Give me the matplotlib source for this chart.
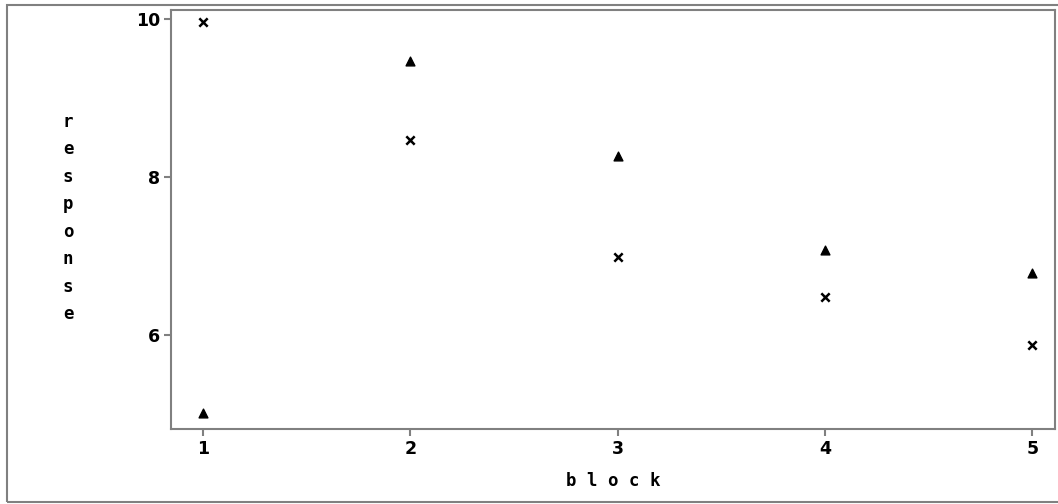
import matplotlib.pyplot as plt
from matplotlib.patches import Rectangle

blocks = [1, 2, 3, 4, 5]
resp_x = [9.96, 8.47, 6.99, 6.49, 5.88]
resp_tri = [5.02, 9.47, 8.27, 7.08, 6.79]
xticks = [1, 2, 3, 4, 5]
yticks = [6, 8, 10]

fig = plt.figure(figsize=(10.58, 5.04), dpi=100)
fig.patches.append(Rectangle((7 / 1058, 2 / 504), 1.1, 497 / 504, transform=fig.transFigure,
                             fill=False, edgecolor='#808080', linewidth=1.5, clip_on=False))

ax = fig.add_axes([171 / 1058, 75 / 504, 884 / 1058, 419 / 504])
ax.scatter(blocks, resp_x, marker='x', s=36, color='black', linewidths=1.8)
ax.scatter(blocks, resp_tri, marker='^', s=40, color='black')

ax.set_xlim(0.846, 5.11)
ax.set_ylim(4.817, 10.11)
ax.set_xticks(xticks)
ax.set_yticks(yticks)
for s in ax.spines.values():
    s.set_color('#808080')
    s.set_linewidth(1.5)
ax.tick_params(direction='out', length=5, width=1.5, color='#808080', pad=3)
for lab in ax.get_xticklabels() + ax.get_yticklabels():
    lab.set_fontsize(12.5)
    lab.set_fontweight('bold')
    lab.set_family('DejaVu Sans')

ax.set_xlabel('b l o c k', fontsize=12.5, fontweight='bold', family='DejaVu Sans Mono', labelpad=10)
fig.text(68 / 1058, 1 - 218 / 504, '\n'.join('response'), ha='center', va='center',
         fontsize=12.5, fontweight='bold', family='DejaVu Sans Mono', linespacing=1.68)

fig.savefig('out.png', dpi=100)
